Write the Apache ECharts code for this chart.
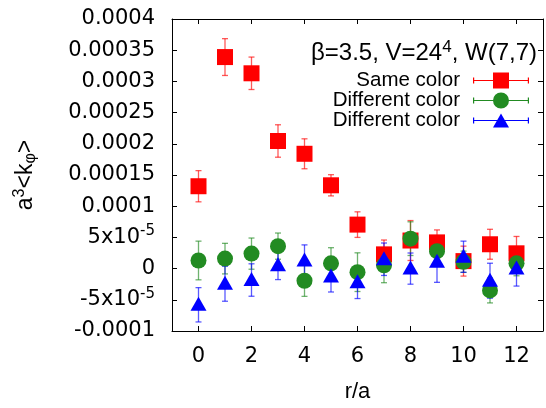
<!DOCTYPE html>
<html>
<head>
<meta charset="utf-8">
<script src="https://cdn.jsdelivr.net/npm/echarts@6/dist/echarts.min.js"></script>
<style>
html,body{margin:0;padding:0;background:#fff;}
#chart{width:546px;height:408px;}
</style>
</head>
<body>
<div id="chart"></div>
<script>
// ---- data ----
var rValues = [0,1,2,3,4,5,6,7,8,9,10,11,12];
var sameVal = [1.32e-4, 3.39e-4, 3.13e-4, 2.045e-4, 1.84e-4, 1.335e-4, 7.05e-5, 2.28e-5, 4.5e-5, 4.2e-5, 1.2e-5, 3.9e-5, 2.45e-5];
var sameErr = [2.5e-5, 2.95e-5, 2.6e-5, 2.6e-5, 2.4e-5, 1.7e-5, 2.05e-5, 2.3e-5, 3.2e-5, 2.0e-5, 2.4e-5, 2.4e-5, 2.7e-5];
var diffAVal = [1.3e-5, 1.6e-5, 2.4e-5, 3.6e-5, -1.95e-5, 0.85e-5, -0.57e-5, 0.54e-5, 4.8e-5, 2.8e-5, 1.1e-5, -3.5e-5, 0.85e-5];
var diffAErr = [3.1e-5, 2.45e-5, 2.5e-5, 2.1e-5, 2.5e-5, 2.5e-5, 3.1e-5, 2.8e-5, 2.7e-5, 2.2e-5, 1.7e-5, 2.0e-5, 2.0e-5];
var diffBVal = [-5.8e-5, -2.43e-5, -1.83e-5, 0.54e-5, 1.3e-5, -1.25e-5, -2.2e-5, 1.5e-5, 0.0, 1.1e-5, 1.9e-5, -1.94e-5, 0.0];
var diffBErr = [2.75e-5, 2.8e-5, 2.6e-5, 2.3e-5, 2.5e-5, 2.5e-5, 2.6e-5, 2.6e-5, 2.5e-5, 3.3e-5, 2.5e-5, 2.8e-5, 2.8e-5];
var seriesNames = ['Same color', 'Different color', 'Different color '];
var xTicks = [0,2,4,6,8,10,12];
var yTicks = [-0.0001, -0.00005, 0, 0.00005, 0.0001, 0.00015, 0.0002, 0.00025, 0.0003, 0.00035, 0.0004];
var yTickLabels = ['-0.0001', '-5x10{sup|-5}', '0', '5x10{sup|-5}', '0.0001', '0.00015', '0.0002', '0.00025', '0.0003', '0.00035', '0.0004'];
var titleText = '\u03b2=3.5, V=24{sup|4}, W(7,7)';

// ---- helpers ----
function pts(vals){ return rValues.map(function(r,i){ return [r, vals[i]]; }); }
function errs(vals, e){ return rValues.map(function(r,i){ return [r, vals[i]-e[i], vals[i]+e[i]]; }); }
function errSeries(data, color){
  return {
    type:'custom', data:data, silent:true, z:2,
    renderItem:function(params, api){
      var x = api.value(0);
      var lo = api.coord([x, api.value(1)]);
      var hi = api.coord([x, api.value(2)]);
      var c = 3;
      var st = {stroke:color, lineWidth:1.3, opacity:0.65};
      return {type:'group', children:[
        {type:'line', shape:{x1:lo[0], y1:lo[1], x2:hi[0], y2:hi[1]}, style:st},
        {type:'line', shape:{x1:lo[0]-c, y1:lo[1], x2:lo[0]+c, y2:lo[1]}, style:st},
        {type:'line', shape:{x1:hi[0]-c, y1:hi[1], x2:hi[0]+c, y2:hi[1]}, style:st}
      ]};
    }
  };
}
var FONT = 'Liberation Sans';
var TICKFONT = 'DejaVu Sans';
var lineBar = 'M0,5 L1.2,5 L1.2,7.4 L54.8,7.4 L54.8,5 L56,5 L56,11 L54.8,11 L54.8,8.6 L1.2,8.6 L1.2,11 L0,11 Z ';
var iconSquare = 'path://' + lineBar + 'M20,0 L36,0 L36,16 L20,16 Z';
var iconCircle = 'path://' + lineBar + 'M20,8 A8,8 0 1,1 36,8 A8,8 0 1,1 20,8 Z';
var iconTriangle = 'path://' + lineBar + 'M28,1 L36,15 L20,15 Z M28,16 L28,16 M28,0 L28,0 Z';

function legendFor(name, icon, top){
  return {
    data:[{name:name, icon:icon}], right:17, top:top, orient:'vertical', align:'right',
    itemWidth:56, itemHeight:16, padding:0, selectedMode:false,
    formatter:function(n){ return n.trim(); },
    textStyle:{fontFamily:FONT, fontSize:20.5, color:'#000', padding:[0,8,0,0]}
  };
}

var chart = echarts.init(document.getElementById('chart'), null, {renderer:'canvas'});
var axisLineStyle = {show:true, onZero:false, lineStyle:{color:'#000', width:1}};
chart.setOption({
  animation:false,
  backgroundColor:'#fff',
  grid:{left:172, right:3, top:19, bottom:72, containLabel:false},
  title:{
    text:titleText, right:9, top:39, padding:0,
    textStyle:{fontFamily:FONT, fontSize:24, fontWeight:'normal', color:'#000',
      rich:{sup:{fontFamily:FONT, fontSize:17, verticalAlign:'top', color:'#000', padding:[0,0,12,0]}}}
  },
  legend:[
    legendFor(seriesNames[0], iconSquare, 70),
    legendFor(seriesNames[1], iconCircle, 90),
    legendFor(seriesNames[2], iconTriangle, 110)
  ],
  xAxis:[
    {type:'value', min:-1, max:13, position:'bottom',
      name:'r/a', nameLocation:'middle', nameGap:50,
      nameTextStyle:{fontFamily:FONT, fontSize:22, color:'#000'},
      axisLine:axisLineStyle,
      axisTick:{show:true, inside:true, length:5, lineStyle:{color:'#000'}, customValues:xTicks},
      axisLabel:{show:true, margin:15, fontFamily:TICKFONT, fontSize:21, color:'#000', customValues:xTicks},
      splitLine:{show:false}},
    {type:'value', min:-1, max:13, position:'top',
      axisLine:axisLineStyle,
      axisTick:{show:true, inside:true, length:5, lineStyle:{color:'#000'}, customValues:xTicks},
      axisLabel:{show:false}, splitLine:{show:false}}
  ],
  yAxis:[
    {type:'value', min:-0.0001, max:0.0004, interval:0.00005, position:'left',
      name:'a{sup|3}<k{sub|\u03c6}>', nameLocation:'middle', nameGap:132, nameRotate:90,
      nameTextStyle:{fontFamily:FONT, fontSize:23, color:'#000',
        rich:{sup:{fontFamily:FONT, fontSize:16, verticalAlign:'top', padding:[0,0,12,0], color:'#000'},
              sub:{fontFamily:FONT, fontSize:16, padding:[10,0,0,0], color:'#000'}}},
      axisLine:axisLineStyle,
      axisTick:{show:true, inside:true, length:5, lineStyle:{color:'#000'}},
      axisLabel:{show:true, margin:17, fontFamily:TICKFONT, fontSize:21, color:'#000',
        formatter:function(v){
          var idx = Math.round((v - yTicks[0]) / (yTicks[1]-yTicks[0]));
          return yTickLabels[idx] !== undefined ? yTickLabels[idx] : '';
        },
        rich:{sup:{fontFamily:TICKFONT, fontSize:15, color:'#000', padding:[0,0,12,0]}}},
      splitLine:{show:false}},
    {type:'value', min:-0.0001, max:0.0004, interval:0.00005, position:'right',
      axisLine:axisLineStyle,
      axisTick:{show:true, inside:true, length:5, lineStyle:{color:'#000'}},
      axisLabel:{show:false}, splitLine:{show:false}}
  ],
  series:[
    errSeries(errs(sameVal, sameErr), '#ff0000'),
    {type:'scatter', name:seriesNames[0], data:pts(sameVal), symbol:'rect', symbolSize:16,
      itemStyle:{color:'#ff0000', opacity:1}, z:2},
    errSeries(errs(diffAVal, diffAErr), '#228b22'),
    {type:'scatter', name:seriesNames[1], data:pts(diffAVal), symbol:'circle', symbolSize:16,
      itemStyle:{color:'#228b22', opacity:1}, z:2},
    errSeries(errs(diffBVal, diffBErr), '#0000ff'),
    {type:'scatter', name:seriesNames[2], data:pts(diffBVal), symbol:'triangle', symbolSize:[16,14],
      symbolOffset:[0,-1], itemStyle:{color:'#0000ff', opacity:1}, z:2}
  ]
});
</script>
</body>
</html>
